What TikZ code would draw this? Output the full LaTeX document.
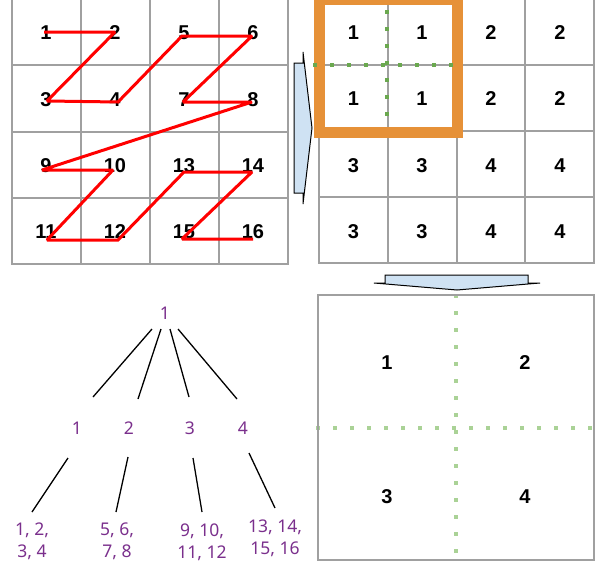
\documentclass[tikz,border=0pt]{standalone}
\usepackage{fontspec}
\setmainfont{Liberation Sans}
\newfontfamily\treefont{Noto Sans}
\definecolor{gridgray}{RGB}{160,160,160}
\definecolor{zred}{RGB}{255,0,0}
\definecolor{blockorange}{RGB}{230,145,56}
\definecolor{darkgreen}{RGB}{106,168,79}
\definecolor{lightgreen}{RGB}{170,210,150}
\definecolor{arrowblue}{RGB}{207,226,243}
\definecolor{treepurple}{RGB}{122,47,140}
\begin{document}
\begin{tikzpicture}[x=1pt,y=-1pt,
  gridline/.style={draw=gridgray,line width=2pt},
  gnum/.style={font=\fontsize{20}{20}\selectfont\bfseries,text height=14.3pt,text depth=0pt,inner sep=0pt},
  tnum/.style={font=\treefont\fontsize{17.5}{22.5}\selectfont,text=treepurple,text height=12.5pt,text depth=0pt,inner sep=0pt},
  leaf/.style={font=\treefont\fontsize{17.5}{22.5}\selectfont,text=treepurple,align=center,anchor=north,inner sep=0pt},
  zpath/.style={draw=zred,line width=3pt,line join=miter,miter limit=2,line cap=butt},
  treeline/.style={draw=black,line width=1.3pt},
  blockarrow/.style={draw=black,fill=arrowblue,line width=1pt,line join=miter},
  darkdots/.style={draw=darkgreen,line width=3.5pt,dash pattern=on 3.5pt off 13.5pt},
  lightdots/.style={draw=lightgreen,line width=3.5pt,dash pattern=on 3.5pt off 13.5pt}]
\useasboundingbox (0,0) rectangle (606,565);

% ---------- top-left grid ----------
\foreach \x in {12,81,150,219,288} \draw[gridline] (\x,-1) -- (\x,265);
\foreach \y in {-1,65.25,131.5,197.75,264} \draw[gridline] (11,\y) -- (289,\y);

\node[gnum] (a1)  at (46,32) {1};
\node[gnum] (a2)  at (115,32) {2};
\node[gnum] (a5)  at (184,32) {5};
\node[gnum] (a6)  at (253,32) {6};
\node[gnum] (a3)  at (46,99) {3};
\node[gnum] (a4)  at (115,99) {4};
\node[gnum] (a7)  at (184,99) {7};
\node[gnum] (a8)  at (253,99) {8};
\node[gnum] (a9)  at (46,165.5) {9};
\node[gnum] (a10) at (115,165.5) {10};
\node[gnum] (a13) at (184,165.5) {13};
\node[gnum] (a14) at (253,165.5) {14};
\node[gnum] (a11) at (46,231.5) {11};
\node[gnum] (a12) at (115,231.5) {12};
\node[gnum] (a15) at (184,231.5) {15};
\node[gnum] (a16) at (253,231.5) {16};

\coordinate (z1) at (44,32);   \coordinate (z2) at (115,32);
\coordinate (z3) at (47,101);  \coordinate (z4) at (118,102);
\coordinate (z5) at (182,36);  \coordinate (z6) at (252,36);
\coordinate (z7) at (183,102); \coordinate (z8) at (252,102);
\coordinate (z9) at (42,170);  \coordinate (z10) at (113,170);
\coordinate (z11) at (47,240); \coordinate (z12) at (118,240);
\coordinate (z13) at (184,172);\coordinate (z14) at (252,172);
\coordinate (z15) at (182,239);\coordinate (z16) at (253,239);
\draw[zpath] (z1) -- (z2) -- (z3) -- (z4) -- (z5) -- (z6) -- (z7) -- (z8)
  -- (z9) -- (z10) -- (z11) -- (z12) -- (z13) -- (z14) -- (z15) -- (z16);

% ---------- right arrow ----------
\draw[blockarrow] (294,63) -- (303,63) -- (303,52) -- (312,128) -- (303,204)
  -- (303,193) -- (294,193) -- cycle;

% ---------- top-right grid ----------
\foreach \x in {319,387.75,456.5,525.25,594} \draw[gridline] (\x,-1) -- (\x,264);
\foreach \y in {-1,65,131,197,263} \draw[gridline] (318,\y) -- (595,\y);

\node[gnum] (b1)  at (353.5,32) {1};
\node[gnum] (b2)  at (422,32) {1};
\node[gnum] (b3)  at (491,32) {2};
\node[gnum] (b4)  at (560,32) {2};
\node[gnum] (b5)  at (353.5,98.5) {1};
\node[gnum] (b6)  at (422,98.5) {1};
\node[gnum] (b7)  at (491,98.5) {2};
\node[gnum] (b8)  at (560,98.5) {2};
\node[gnum] (b9)  at (353.5,165) {3};
\node[gnum] (b10) at (422,165) {3};
\node[gnum] (b11) at (491,165) {4};
\node[gnum] (b12) at (560,165) {4};
\node[gnum] (b13) at (353.5,231) {3};
\node[gnum] (b14) at (422,231) {3};
\node[gnum] (b15) at (491,231) {4};
\node[gnum] (b16) at (560,231) {4};

\draw[draw=blockorange,line width=11pt] (319,-0.5) rectangle (457.5,132);
\draw[darkdots] (387,10.25) -- (387,116);
\draw[darkdots] (313.25,65) -- (455,65);

% ---------- down arrow ----------
\draw[blockarrow] (385,275) -- (528,275) -- (528,283) -- (540,283) -- (457,290)
  -- (374,283) -- (385,283) -- cycle;

% ---------- bottom-right box ----------
\draw[lightdots] (456,294.25) -- (456,560);
\draw[lightdots] (316.25,428) -- (594,428);
\draw[gridline] (318,295) rectangle (594,560);
\node[gnum] (c1) at (387,362) {1};
\node[gnum] (c2) at (525,362) {2};
\node[gnum] (c3) at (387,496) {3};
\node[gnum] (c4) at (525,496) {4};

% ---------- tree ----------
\node[tnum] (t0) at (165,313) {1};
\node[tnum] (t1) at (77,428) {1};
\node[tnum] (t2) at (129,428) {2};
\node[tnum] (t3) at (190,428) {3};
\node[tnum] (t4) at (243,428) {4};
\node[leaf] (l1) at (32,522.5) {1, 2,\\3, 4};
\node[leaf] (l2) at (117,522.5) {5, 6,\\7, 8};
\node[leaf] (l3) at (202,523.5) {9, 10,\\11, 12};
\node[leaf] (l4) at (275,519.5) {13, 14,\\15, 16};

\coordinate (ra1) at (152,329); \coordinate (ra2) at (93,397);
\coordinate (rb1) at (161,329); \coordinate (rb2) at (138,399);
\coordinate (rc1) at (170,329); \coordinate (rc2) at (189,397);
\coordinate (rd1) at (178,329); \coordinate (rd2) at (237,399);
\coordinate (la1) at (68,458);  \coordinate (la2) at (32,512);
\coordinate (lb1) at (128,457); \coordinate (lb2) at (116,512);
\coordinate (lc1) at (193,458); \coordinate (lc2) at (202,512);
\coordinate (ld1) at (249,453); \coordinate (ld2) at (275,508);
\draw[treeline] (ra1) -- (ra2);
\draw[treeline] (rb1) -- (rb2);
\draw[treeline] (rc1) -- (rc2);
\draw[treeline] (rd1) -- (rd2);
\draw[treeline] (la1) -- (la2);
\draw[treeline] (lb1) -- (lb2);
\draw[treeline] (lc1) -- (lc2);
\draw[treeline] (ld1) -- (ld2);
\end{tikzpicture}
\end{document}
